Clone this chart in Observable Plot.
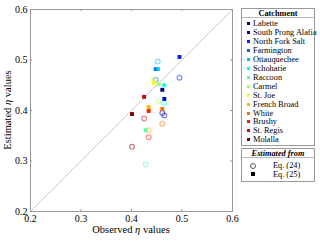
<!DOCTYPE html>
<html><head><meta charset="utf-8">
<script src="https://cdn.jsdelivr.net/npm/d3@7"></script>
<script src="https://cdn.jsdelivr.net/npm/@observablehq/plot@0.6"></script>
<style>
body{margin:0;background:#fff;font-family:"Liberation Serif",serif;}
#wrap{position:relative;width:320px;height:241px;}
.box{position:absolute;border:1px solid #999;background:#fff;box-sizing:border-box;font-size:8.3px;color:#000;}
.ttl{position:absolute;left:0;right:0;top:0;text-align:center;font-weight:bold;height:8px;line-height:9px;border-bottom:1px solid #bbb;}
.it{position:absolute;left:0;height:9px;line-height:9px;white-space:nowrap;}
.sw{position:absolute;width:3px;height:3px;top:3px;left:5px;}
.lb{position:absolute;left:11px;}
</style></head>
<body><div id="wrap"></div>
<script>
const catchments = ["Labette","South Prong Alafia","North Fork Salt","Farmington","Ottauquechee","Schoharie","Raccoon","Carmel","St. Joe","French Broad","White","Brushy","St. Regis","Molalla"];
const colors = ["#000080","#0000CE","#001DFF","#006CFF","#00BAFF","#0AFFF5","#58FFA7","#A7FF58","#F5FF0A","#FFBA00","#FF6C00","#FF1D00","#CE0000","#800000"];
const observed = [0.461,0.465,0.495,0.448,0.452,0.465,0.428,0.454,0.444,0.434,0.461,0.434,0.425,0.401];
const estEq25 = [0.441,0.423,0.506,0.482,0.482,0.450,0.361,0.452,0.455,0.407,0.403,0.399,0.427,0.393];
const estEq24 = [0.395,0.390,0.465,0.461,0.497,0.415,0.293,0.419,0.461,0.361,0.374,0.347,0.384,0.328];
const tickValues = [0.2,0.3,0.4,0.5,0.6];
const innerTicks = [0.3,0.4,0.5];

const rows = catchments.map((c,i)=>({c, col:colors[i], x:observed[i], e24:estEq24[i], e25:estEq25[i]}));
const fmt = d3.format(".1f");
const plot = Plot.plot({
  width:320, height:241,
  marginLeft:30, marginRight:88, marginTop:9, marginBottom:30,
  style:{fontFamily:"Liberation Serif", fontSize:"10px", background:"transparent"},
  x:{domain:[0.2,0.6]}, y:{domain:[0.2,0.6]},
  marks:[
    Plot.line([[0.2,0.2],[0.6,0.6]], {x:d=>d[0], y:d=>d[1], stroke:"#999", strokeWidth:0.7, strokeDasharray:"1,1.4"}),
    Plot.ruleX(innerTicks, {x:d=>d, y1:0.2, y2:0.204, stroke:"#999"}),
    Plot.ruleX(innerTicks, {x:d=>d, y1:0.596, y2:0.6, stroke:"#999"}),
    Plot.ruleY(innerTicks, {y:d=>d, x1:0.2, x2:0.204, stroke:"#999"}),
    Plot.ruleY(innerTicks, {y:d=>d, x1:0.596, x2:0.6, stroke:"#999"}),
    Plot.frame({stroke:"#999"}),
    Plot.axisX({ticks:tickValues, tickFormat:fmt, tickSize:0, tickPadding:3, label:null}),
    Plot.axisY({ticks:tickValues, tickFormat:fmt, tickSize:0, tickPadding:3, label:null}),
    Plot.dot(rows, {x:"x", y:"e24", r:2.4, stroke:d=>d.col, strokeOpacity:0.5, strokeWidth:1.2, fill:"none"}),
    Plot.dot(rows, {x:"x", y:"e25", r:2.2, symbol:"square", fill:d=>d.col, stroke:"none"})
  ]
});
const wrap = document.getElementById("wrap");
wrap.appendChild(plot);
const svg = d3.select(plot);
const xl = svg.append("text").attr("x",131).attr("y",233).attr("text-anchor","middle").attr("font-size","10.5px").attr("fill","#000");
xl.append("tspan").text("Observed ");
xl.append("tspan").attr("font-style","italic").text("η");
xl.append("tspan").text(" values");
const yl = svg.append("text").attr("transform","translate(11,110) rotate(-90)").attr("text-anchor","middle").attr("font-size","10.5px").attr("fill","#000");
yl.append("tspan").text("Estimated ");
yl.append("tspan").attr("font-style","italic").text("η");
yl.append("tspan").text(" values");

// legend 1
const b1 = document.createElement("div");
b1.className="box"; Object.assign(b1.style,{left:"241px",top:"8px",width:"74px",height:"138px"});
b1.innerHTML = '<div class="ttl">Catchment</div>';
catchments.forEach((c,i)=>{
  const it=document.createElement("div"); it.className="it"; it.style.top=(10+i*8.95)+"px";
  it.innerHTML='<span class="sw" style="background:'+colors[i]+'"></span><span class="lb">'+c+'</span>';
  b1.appendChild(it);
});
wrap.appendChild(b1);
// legend 2
const b2 = document.createElement("div");
b2.className="box"; Object.assign(b2.style,{left:"241px",top:"148px",width:"74px",height:"34px"});
b2.innerHTML = '<div class="ttl" style="font-style:italic">Estimated from</div>'+
 '<div class="it" style="top:12px;width:72px"><span style="position:absolute;left:8px;top:2px;width:4px;height:4px;border:1px solid #555;border-radius:50%"></span><span style="position:absolute;left:31px">Eq. (24)</span></div>'+
 '<div class="it" style="top:21px;width:72px"><span style="position:absolute;left:9px;top:2px;width:4px;height:4px;background:#000"></span><span style="position:absolute;left:31px">Eq. (25)</span></div>';
wrap.appendChild(b2);
</script></body></html>
